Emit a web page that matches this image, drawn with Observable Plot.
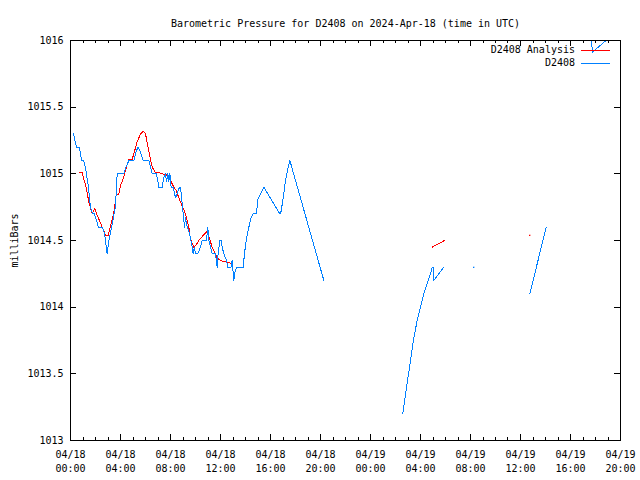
<!DOCTYPE html>
<html><head><meta charset="utf-8">
<script src="https://cdn.jsdelivr.net/npm/d3@7"></script>
<script src="https://cdn.jsdelivr.net/npm/@observablehq/plot@0.6"></script>
<style>body{margin:0;background:#fff}</style>
</head><body><div id="chart"></div><script>
const title = "Barometric Pressure for D2408 on 2024-Apr-18 (time in UTC)";
const yLabel = "milliBars";
const seriesNames = ["D2408 Analysis", "D2408"];
const seriesColors = ["#ff0000", "#0080ff"];
const xStart = "18 00:00";
const xEnd = "19 20:00";
const yTicks = [1013, 1013.5, 1014, 1014.5, 1015, 1015.5, 1016];

// D2408 Analysis (red)
const redTimes = ["18 00:43","18 00:56","18 01:04","18 01:15","18 01:28","18 01:44","18 01:57","18 02:08","18 02:24","18 02:35",
"18 02:48","18 03:01","18 03:12","18 03:28","18 03:39","18 03:52","18 04:00","18 04:16","18 04:32","18 04:40",
"18 04:56","18 05:04","18 05:20","18 05:36","18 05:49","18 06:00","18 06:16","18 06:32","18 06:48","18 07:04",
"18 07:20","18 07:44","18 08:00","18 08:13","18 08:29","18 08:40","18 08:56","18 09:12","18 09:28","18 09:36",
"18 09:52","18 10:00","18 10:16","18 10:32","18 10:56","18 11:04","18 11:20","18 11:44","18 12:00","18 12:24",
"18 12:48","18 12:53","18 14:00","19 04:56","19 05:55","19 08:00","19 12:45"];
const redValues = [1015.01,1015.01,1014.96,1014.9,1014.79,1014.7,1014.74,1014.69,1014.63,1014.59,
1014.54,1014.54,1014.61,1014.71,1014.84,1014.85,1014.91,1014.98,1015.07,1015.11,
1015.11,1015.15,1015.24,1015.3,1015.32,1015.3,1015.17,1015.05,1015.01,1015.01,
1015.0,1014.99,1014.95,1014.91,1014.87,1014.82,1014.76,1014.7,1014.6,1014.51,
1014.45,1014.46,1014.5,1014.53,1014.57,1014.53,1014.45,1014.37,1014.35,1014.34,
1014.33,1014.32,null,1014.45,1014.5,null,1014.54];

// D2408 (blue)
const blueTimes = ["18 00:14","18 00:29","18 00:43","18 00:53","18 01:02","18 01:12","18 01:26","18 01:36","18 01:46","18 01:55",
"18 02:14","18 02:34","18 02:43","18 02:48","18 02:56","18 03:04","18 03:20","18 03:36","18 03:44","18 04:16",
"18 04:24","18 04:40","18 05:04","18 05:12","18 05:23","18 05:31","18 05:49","18 06:16","18 06:32","18 06:53",
"18 07:04","18 07:20","18 07:28","18 07:36","18 07:41","18 07:47","18 07:52","18 07:57","18 08:03","18 08:13",
"18 08:24","18 08:32","18 08:40","18 08:48","18 08:56","18 09:01","18 09:07","18 09:12","18 09:20","18 09:28",
"18 09:36","18 09:44","18 09:49","18 09:55","18 10:00","18 10:11","18 10:24","18 10:32","18 10:53","18 10:59",
"18 11:04","18 11:12","18 11:20","18 11:36","18 11:44","18 11:47","18 11:57","18 12:03","18 12:08","18 12:16",
"18 12:29","18 12:35","18 12:51","18 12:56","18 13:04","18 13:07","18 13:18","18 13:49","18 13:55","18 14:05",
"18 14:16","18 14:27","18 14:37","18 14:53","18 14:59","18 15:15","18 15:28","18 16:45","18 16:51","18 17:01",
"18 17:12","18 17:23","18 17:33","18 20:16","18 22:00","19 02:35","19 02:56","19 03:28","19 03:44","19 04:00",
"19 04:16","19 04:32","19 04:48","19 04:56","19 05:01","19 05:04","19 05:52","19 07:00","19 08:16","19 10:00",
"19 12:45","19 14:03","19 16:00","19 17:34","19 17:44","19 19:12"];
const blueValues = [1015.3,1015.2,1015.2,1015.1,1015.1,1015.05,1014.9,1014.75,1014.7,1014.7,
1014.6,1014.6,1014.55,1014.5,1014.4,1014.5,1014.62,1014.76,1015.0,1015.0,
1015.04,1015.1,1015.1,1015.15,1015.2,1015.18,1015.1,1015.1,1015.0,1015.0,
1014.9,1014.9,1014.97,1015.0,1014.94,1015.0,1014.94,1015.0,1014.9,1014.9,
1014.82,1014.85,1014.89,1014.9,1014.78,1014.7,1014.6,1014.67,1014.6,1014.57,
1014.52,1014.45,1014.4,1014.45,1014.4,1014.4,1014.45,1014.5,1014.5,1014.6,
1014.5,1014.45,1014.4,1014.4,1014.3,1014.38,1014.5,1014.5,1014.45,1014.4,
1014.35,1014.3,1014.3,1014.35,1014.2,1014.25,1014.3,1014.3,1014.4,1014.52,
1014.6,1014.67,1014.7,1014.7,1014.81,1014.86,1014.9,1014.7,1014.72,1014.82,
1014.95,1015.04,1015.1,1014.2,null,1013.2,1013.43,1013.77,1013.9,1014.0,
1014.1,1014.18,1014.25,1014.3,1014.3,1014.2,1014.3,null,1014.3,null,
1014.1,1014.6,null,1016.5,1015.91,1016.03];

const parseT = s => new Date(`2024-04-${s.slice(0,2)}T${s.slice(3)}:00Z`);
const toRows = (times, vals) => times.map((s, i) => ({t: parseT(s), v: vals[i]}));
const isolated = rows => rows.filter((r, i) => r.v != null &&
  (i === 0 || rows[i-1].v == null) && (i === rows.length - 1 || rows[i+1].v == null));

const redRows = toRows(redTimes, redValues);
const blueRows = toRows(blueTimes, blueValues);
const x0 = parseT(xStart), x1 = parseT(xEnd);
const majorX = d3.utcHour.every(4).range(x0, new Date(+x1 + 1));
const minorX = d3.utcHour.range(x0, new Date(+x1 + 1)).filter(d => d.getUTCHours() % 4 !== 0);
const pad = n => String(n).padStart(2, "0");
const fmtX = d => `${pad(d.getUTCMonth()+1)}/${pad(d.getUTCDate())}\n${pad(d.getUTCHours())}:${pad(d.getUTCMinutes())}`;

function frameTicks(index, scales, values, dims) {
  const {width, height, marginLeft, marginRight, marginTop, marginBottom} = dims;
  const L = marginLeft, R = width - marginRight, T = marginTop, B = height - marginBottom;
  let p = "";
  for (const v of yTicks) { const yy = Math.round(scales.y(v)) + 0.5; p += `M${L},${yy}h6M${R},${yy}h-6`; }
  for (const d of majorX) { const xx = Math.round(scales.x(d)) + 0.5; p += `M${xx},${B}v-6M${xx},${T}v6`; }
  for (const d of minorX) { const xx = Math.round(scales.x(d)) + 0.5; p += `M${xx},${B}v-3M${xx},${T}v3`; }
  const g = d3.create("svg:g");
  g.append("path").attr("d", p).attr("stroke", "black").attr("fill", "none").attr("shape-rendering", "crispEdges");
  return g.node();
}

function legend(index, scales, values, dims) {
  const {width, marginRight, marginTop} = dims;
  const R = width - marginRight;
  const g = d3.create("svg:g");
  seriesNames.forEach((name, i) => {
    const yy = marginTop + 10 + i * 13;
    g.append("text").attr("x", R - 45).attr("y", yy).attr("dy", "0.32em")
      .attr("text-anchor", "end").attr("fill", "black").text(name);
    g.append("line").attr("x1", R - 39).attr("x2", R - 10).attr("y1", yy + 0.5).attr("y2", yy + 0.5)
      .attr("stroke", seriesColors[i]).attr("shape-rendering", "crispEdges");
  });
  return g.node();
}

const chart = Plot.plot({
  width: 640, height: 480,
  marginLeft: 70, marginRight: 20, marginTop: 40, marginBottom: 40,
  style: {fontFamily: "'DejaVu Sans Mono', monospace", fontSize: "10px", background: "white", color: "black"},
  x: {type: "utc", domain: [x0, x1]},
  y: {domain: [1013, 1016]},
  marks: [
    Plot.line(redRows, {x: "t", y: "v", stroke: seriesColors[0], strokeWidth: 1, clip: true, shapeRendering: "crispEdges"}),
    Plot.dot(isolated(redRows), {x: "t", y: "v", r: 0.7, fill: seriesColors[0], stroke: null}),
    Plot.line(blueRows, {x: "t", y: "v", stroke: seriesColors[1], strokeWidth: 1, clip: true, shapeRendering: "crispEdges"}),
    Plot.dot(isolated(blueRows), {x: "t", y: "v", r: 0.7, fill: seriesColors[1], stroke: null}),
    Plot.frame({stroke: "black", shapeRendering: "crispEdges"}),
    frameTicks,
    Plot.axisY({ticks: yTicks, tickSize: 0, tickPadding: 7, tickFormat: d => String(d),
      label: yLabel, labelAnchor: "center", labelOffset: 60, labelArrow: "none"}),
    Plot.axisX({ticks: majorX, tickSize: 0, tickPadding: 8, tickFormat: fmtX, lineHeight: 1.4, label: null}),
    Plot.text([title], {frameAnchor: "top", dy: -21, fill: "black"}),
    legend
  ]
});
document.getElementById("chart").appendChild(chart);
</script></body></html>
